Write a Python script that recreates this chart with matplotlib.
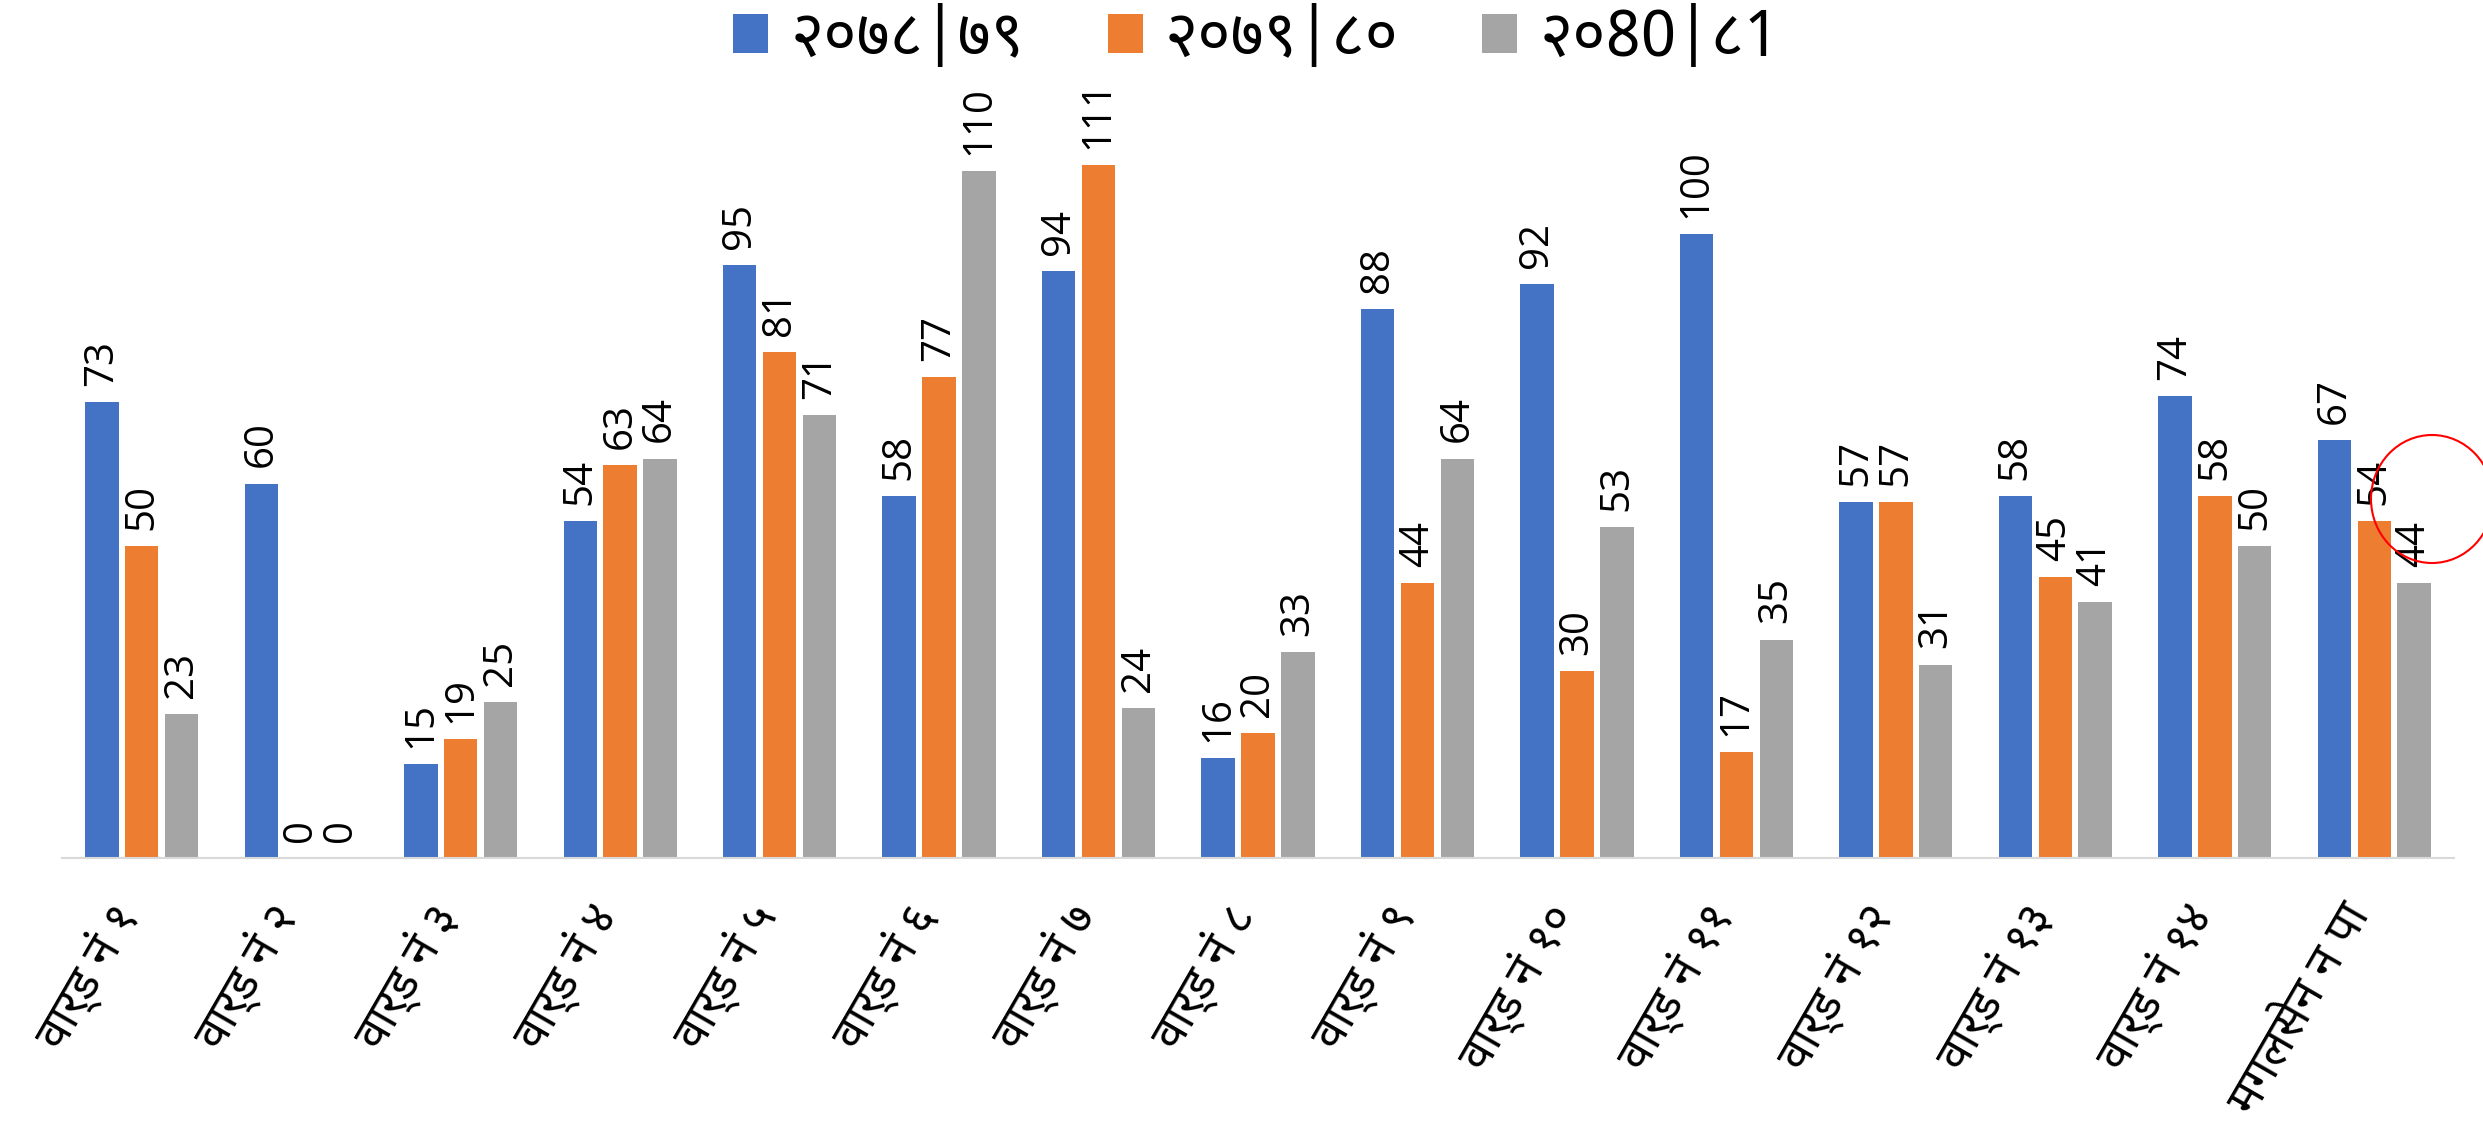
import matplotlib
matplotlib.use("Agg")
import matplotlib.pyplot as plt
import matplotlib.transforms as mtransforms
import numpy as np
from matplotlib import font_manager
from matplotlib.patches import Ellipse

# ---- data ----
categories = ["वार्ड नं १", "वार्ड नं २", "वार्ड नं ३", "वार्ड नं ४", "वार्ड नं ५",
              "वार्ड नं ६", "वार्ड नं ७", "वार्ड नं ८", "वार्ड नं ९", "वार्ड नं १०",
              "वार्ड नं ११", "वार्ड नं १२", "वार्ड नं १३", "वार्ड नं १४", "मगलसेन न पा"]
series_names = ["२०७८|७९", "२०७९|८०", "२०80|८1"]
values_7879 = [73, 60, 15, 54, 95, 58, 94, 16, 88, 92, 100, 57, 58, 74, 67]
values_7980 = [50, 0, 19, 63, 81, 77, 111, 20, 44, 30, 17, 57, 45, 58, 54]
values_8081 = [23, 0, 25, 64, 71, 110, 24, 33, 64, 53, 35, 31, 41, 50, 44]
colors = ["#4472C4", "#ED7D31", "#A5A5A5"]

# ---- pick a Devanagari font ----
available = {f.name for f in font_manager.fontManager.ttflist}
deva_font = None
for cand in ["Noto Sans Devanagari", "Hind", "Mukta", "Poppins", "Anek Devanagari",
             "Biryani", "FreeSans"]:
    if cand in available:
        deva_font = cand
        break
families = ([deva_font] if deva_font else []) + ["DejaVu Sans"]
plt.rcParams["font.family"] = families

W, H = 2483, 1125
fig = plt.figure(figsize=(W / 100, H / 100), dpi=100)
ax_left, ax_right = 62 / W, 2454 / W
ax_bottom = 1 - 858 / H
ax_top = 1 - 109 / H
ax = fig.add_axes([ax_left, ax_bottom, ax_right - ax_left, ax_top - ax_bottom])

x = np.arange(len(categories))
bw = 0.21
off = 0.25
all_series = [values_7879, values_7980, values_8081]
for i, (vals, col, name) in enumerate(zip(all_series, colors, series_names)):
    xs = x + (i - 1) * off
    ax.bar(xs, vals, width=bw, color=col, label=name, zorder=2)
    for xi, v in zip(xs, vals):
        ax.text(xi, v + 2.6, str(v), rotation=90, ha="center", va="bottom",
                fontsize=29, family=["Open Sans", "DejaVu Sans"], color="black")

ax.set_xlim(-0.5, len(categories) - 0.5)
ax.set_ylim(0, 120)
ax.set_yticks([])
for s in ["top", "right", "left"]:
    ax.spines[s].set_visible(False)
ax.spines["bottom"].set_color("#D9D9D9")
ax.spines["bottom"].set_linewidth(1.5)
ax.set_xticks(x)
ax.set_xticklabels(categories, rotation=60, ha="right", rotation_mode="anchor",
                   fontsize=34)
ax.tick_params(axis="x", length=0, pad=36)
shift = mtransforms.ScaledTranslation(-14 / 100, 0, fig.dpi_scale_trans)
for lbl in ax.get_xticklabels():
    lbl.set_va("center")
    lbl.set_transform(lbl.get_transform() + shift)

fig.legend(loc="upper center", bbox_to_anchor=(0.506, 1.045), ncol=3,
           frameon=False, fontsize=46, handlelength=0.55, handleheight=0.55,
           columnspacing=1.3, handletextpad=0.35)

# red ellipse annotation
ell = Ellipse((2432 / W, 1 - 499 / H), 122 / W, 128 / H, transform=fig.transFigure,
              fill=False, edgecolor="red", linewidth=1.5)
fig.patches.append(ell)

fig.savefig("out.png", dpi=100)
